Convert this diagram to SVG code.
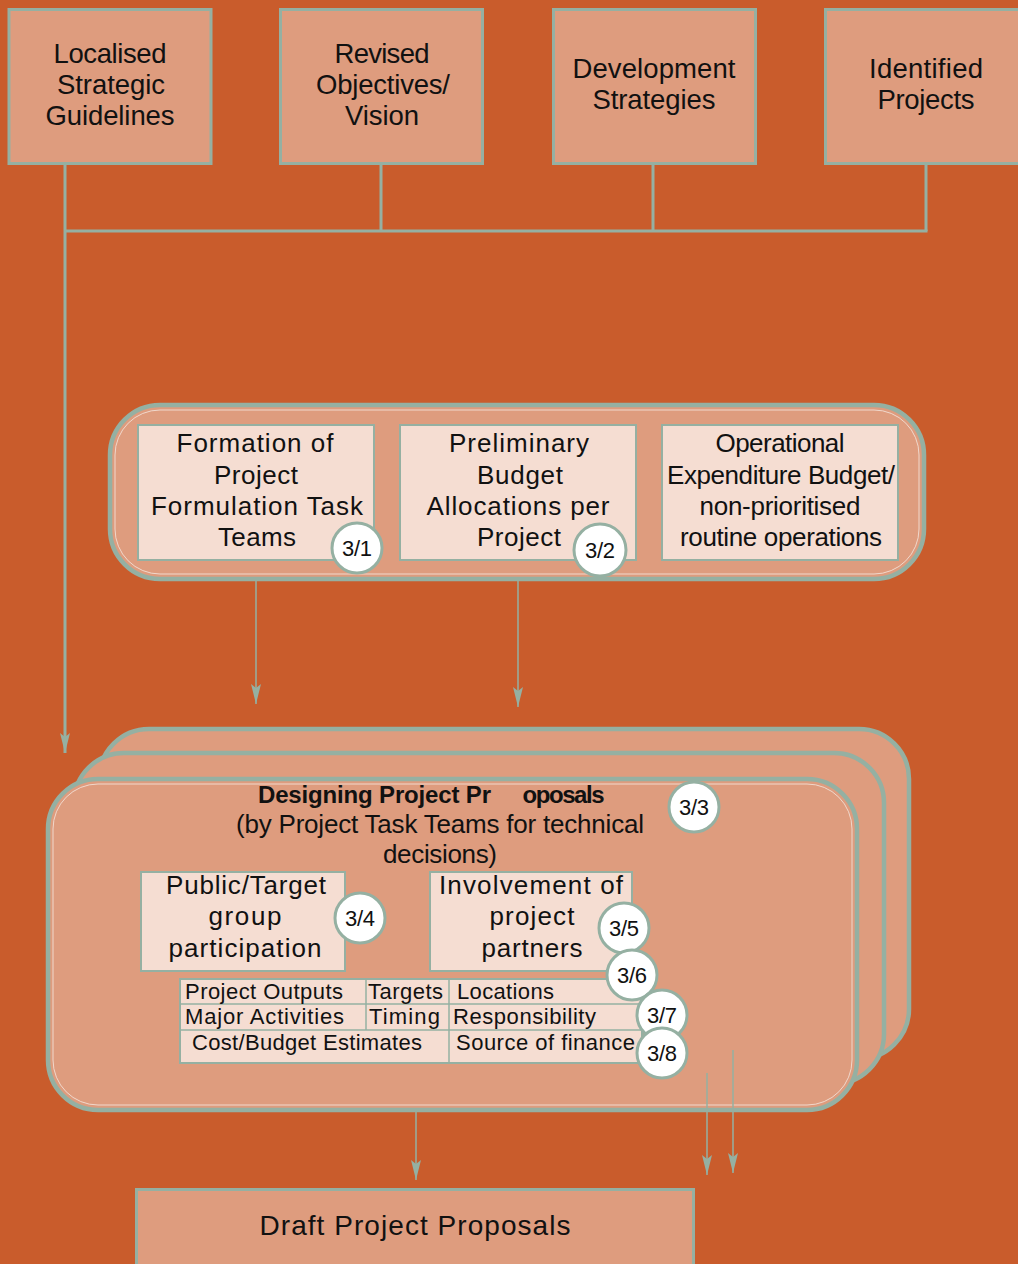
<svg xmlns="http://www.w3.org/2000/svg" width="1018" height="1264" viewBox="0 0 1018 1264">
<defs>
<style>
.t{font-family:"Liberation Sans",Arial,sans-serif;fill:#111;text-anchor:middle}
.big{font-size:27.5px}
.mid{font-size:26px}
.tab{font-size:22px;text-anchor:start}
.box{fill:#DE9C7E;stroke:#95B0A2;stroke-width:3}
.lbox{fill:#F5DDD2;stroke:#95B0A2;stroke-width:2}
.round{fill:#DE9C7E;stroke:#95B0A2;stroke-width:4.5}
.inner{fill:none;stroke:#F0D8CC;stroke-width:1}
.cir{fill:#fff;stroke:#95B0A2;stroke-width:3}
.ct{font-family:"Liberation Sans",Arial,sans-serif;font-size:22px;fill:#111;text-anchor:middle}
.ln{stroke:#95B0A2;stroke-width:3;fill:none}
.thin{stroke:#95B0A2;stroke-width:1.5;fill:none}
</style>
<marker id="ah" viewBox="0 0 20 10" refX="20" refY="5" markerWidth="20" markerHeight="10" markerUnits="userSpaceOnUse" orient="auto-start-reverse">
<path d="M0,0 L20,5 L0,10 L4,5 Z" fill="#95B0A2"/>
</marker>
<marker id="ah2" viewBox="0 0 20 12" refX="20" refY="6" markerWidth="20" markerHeight="12" markerUnits="userSpaceOnUse" orient="auto-start-reverse">
<path d="M0,0 L20,6 L0,12 L4,6 Z" fill="#95B0A2"/>
</marker>
</defs>
<rect width="1018" height="1264" fill="#C95C2C"/>

<g id="connectors">
<line class="ln" x1="65" y1="165" x2="65" y2="231"/>
<line class="ln" x1="381" y1="165" x2="381" y2="231"/>
<line class="ln" x1="653" y1="165" x2="653" y2="231"/>
<line class="ln" x1="926" y1="165" x2="926" y2="231"/>
<line class="ln" x1="65" y1="231" x2="927.5" y2="231"/>
<line class="ln" x1="65" y1="231" x2="65" y2="753" stroke-width="2.5" marker-end="url(#ah)"/>
<line class="thin" x1="256" y1="560" x2="256" y2="704" marker-end="url(#ah)"/>
<line class="thin" x1="518" y1="560" x2="518" y2="707" marker-end="url(#ah)"/>
<line class="thin" x1="614" y1="523" x2="686" y2="523" stroke-width="2" marker-start="url(#ah2)" marker-end="url(#ah2)"/>
</g>

<g id="n-localised"><rect class="box" x="9" y="9.5" width="202" height="154"/>
<text class="t big" x="110" y="63" textLength="113">Localised</text><text class="t big" x="111" y="94" textLength="108">Strategic</text><text class="t big" x="110" y="125" textLength="129">Guidelines</text></g>
<g id="n-revised"><rect class="box" x="280.5" y="9.5" width="202" height="154"/>
<text class="t big" x="382" y="63" textLength="95">Revised</text><text class="t big" x="383" y="94" textLength="134">Objectives/</text><text class="t big" x="382" y="125" textLength="74">Vision</text></g>
<g id="n-development"><rect class="box" x="553.5" y="9.5" width="202" height="154"/>
<text class="t big" x="654" y="78" textLength="163">Development</text><text class="t big" x="654" y="109" textLength="123">Strategies</text></g>
<g id="n-identified"><rect class="box" x="825.5" y="9.5" width="200" height="154"/>
<text class="t big" x="926" y="78" textLength="114">Identified</text><text class="t big" x="926" y="109" textLength="97">Projects</text></g>

<g id="n-middle">
<rect class="round" x="110" y="405" width="814" height="174" rx="50"/>
<rect class="inner" x="115" y="410" width="804" height="164" rx="45"/>
</g>
<g id="n-formation"><rect class="lbox" x="138" y="425" width="236" height="135"/>
<text class="t mid" x="255" y="452" textLength="157">Formation of</text><text class="t mid" x="256" y="484" textLength="84">Project</text><text class="t mid" x="257" y="515" textLength="212">Formulation Task</text><text class="t mid" x="257" y="546" textLength="78">Teams</text>
<circle class="cir" cx="357" cy="548" r="25"/><text class="ct" x="357" y="556" textLength="30">3/1</text></g>
<g id="n-preliminary"><rect class="lbox" x="400" y="425" width="236" height="135"/>
<text class="t mid" x="519" y="452" textLength="140">Preliminary</text><text class="t mid" x="520" y="484" textLength="86">Budget</text><text class="t mid" x="518" y="515" textLength="183">Allocations per</text><text class="t mid" x="519" y="546" textLength="84">Project</text>
<circle class="cir" cx="600" cy="550" r="26"/><text class="ct" x="600" y="558" textLength="30">3/2</text></g>
<g id="n-operational"><rect class="lbox" x="662" y="425" width="236" height="135"/>
<text class="t mid" x="780" y="452" textLength="129">Operational</text><text class="t mid" x="781" y="484" textLength="228">Expenditure Budget/</text><text class="t mid" x="780" y="515" textLength="161">non-prioritised</text><text class="t mid" x="781" y="546" textLength="202">routine operations</text></g>

<g id="n-designing">
<rect class="round" x="99" y="729" width="810" height="330" rx="50"/>
<rect class="round" x="74" y="753" width="810" height="331" rx="50"/>
<rect class="round" x="48" y="779" width="809" height="331" rx="50"/>
<rect class="inner" x="53" y="784" width="799" height="321" rx="45"/>
<text class="t" x="374" y="803" font-size="24" font-weight="bold" letter-spacing="-1" textLength="232">Designing Project Pr</text>
<text class="t" x="563" y="803" font-size="24" font-weight="bold" letter-spacing="-1" textLength="81">oposals</text>
<text class="t mid" x="440" y="833" textLength="408">(by Project Task Teams for technical</text>
<text class="t mid" x="440" y="863" textLength="114">decisions)</text>
<circle class="cir" cx="694" cy="807" r="25"/><text class="ct" x="694" y="815" textLength="30">3/3</text>
</g>
<g id="n-public"><rect class="lbox" x="141" y="872" width="204" height="99"/>
<text class="t mid" x="246" y="894" textLength="160">Public/Target</text><text class="t mid" x="245" y="925" textLength="73">group</text><text class="t mid" x="245" y="957" textLength="153">participation</text>
<circle class="cir" cx="360" cy="918" r="25"/><text class="ct" x="360" y="926" textLength="30">3/4</text></g>
<g id="n-involvement"><rect class="lbox" x="430" y="872" width="202" height="99"/>
<text class="t mid" x="531" y="894" textLength="184">Involvement of</text><text class="t mid" x="532" y="925" textLength="85">project</text><text class="t mid" x="532" y="957" textLength="101">partners</text>
<circle class="cir" cx="624" cy="928" r="25"/><text class="ct" x="624" y="936" textLength="30">3/5</text></g>
<g id="n-table">
<rect class="lbox" x="180" y="979" width="462" height="84"/>
<line class="thin" x1="180" y1="1004" x2="642" y2="1004" stroke-width="2"/>
<line class="thin" x1="180" y1="1030" x2="642" y2="1030" stroke-width="2"/>
<line class="thin" x1="366" y1="979" x2="366" y2="1030" stroke-width="2"/>
<line class="thin" x1="449" y1="979" x2="449" y2="1063" stroke-width="2"/>
<text class="t tab" x="185" y="999" textLength="158">Project Outputs</text>
<text class="t tab" x="368" y="999" textLength="75">Targets</text>
<text class="t tab" x="457" y="999" textLength="97">Locations</text>
<text class="t tab" x="185" y="1024" textLength="159">Major Activities</text>
<text class="t tab" x="369" y="1024" textLength="71">Timing</text>
<text class="t tab" x="453" y="1024" textLength="143">Responsibility</text>
<text class="t tab" x="192" y="1050" textLength="230">Cost/Budget Estimates</text>
<text class="t tab" x="456" y="1050" textLength="179">Source of finance</text>
<circle class="cir" cx="632" cy="975" r="25"/><text class="ct" x="632" y="983" textLength="30">3/6</text>
<circle class="cir" cx="662" cy="1015" r="25"/><text class="ct" x="662" y="1023" textLength="30">3/7</text>
<circle class="cir" cx="662" cy="1053" r="25"/><text class="ct" x="662" y="1061" textLength="30">3/8</text>
</g>

<g id="connectors-lower">
<line class="thin" x1="416" y1="1110" x2="416" y2="1180" stroke-width="2" marker-end="url(#ah)"/>
<line class="thin" x1="707" y1="1073" x2="707" y2="1175" stroke-width="2" marker-end="url(#ah)"/>
<line class="thin" x1="733" y1="1050" x2="733" y2="1173" stroke-width="2" marker-end="url(#ah)"/>
</g>

<g id="n-draft"><rect class="box" x="136.5" y="1189.5" width="557" height="90"/>
<text class="t" x="415" y="1235" font-size="28" textLength="311">Draft Project Proposals</text></g>
</svg>
